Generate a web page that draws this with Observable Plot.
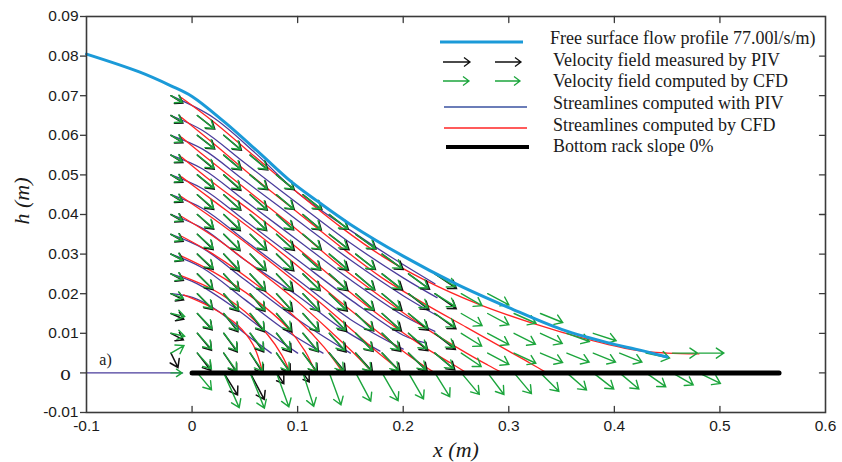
<!DOCTYPE html>
<html><head><meta charset="utf-8">
<script src="https://cdn.jsdelivr.net/npm/d3@7"></script>
<script src="https://cdn.jsdelivr.net/npm/@observablehq/plot@0.6"></script>
<style>
body{margin:0;background:#fff;}
#wrap{position:relative;width:842px;height:462px;overflow:hidden;}
#wrap svg{display:block;}
#overlay{position:absolute;left:0;top:0;pointer-events:none;}
</style></head><body><div id="wrap"></div>
<script>
// ---------- data ----------
const xTicks = [-0.1, 0, 0.1, 0.2, 0.3, 0.4, 0.5, 0.6];
const yTicks = [-0.01, 0, 0.01, 0.02, 0.03, 0.04, 0.05, 0.06, 0.07, 0.08, 0.09];
const xTickLabels = ["-0.1", "0", "0.1", "0.2", "0.3", "0.4", "0.5", "0.6"];
const yTickLabels = ["-0.01", "", "0.01", "0.02", "0.03", "0.04", "0.05", "0.06", "0.07", "0.08", "0.09"];

// free surface profile
const surfaceX = [-0.1, -0.05, -0.02, 0, 0.03, 0.064, 0.093, 0.118, 0.15, 0.2, 0.25, 0.3, 0.35, 0.4, 0.42, 0.45];
const surfaceH = [0.0805, 0.076, 0.0725, 0.0698, 0.0635, 0.0555, 0.0485, 0.0435, 0.0375, 0.0295, 0.0225, 0.0165, 0.011, 0.0072, 0.006, 0.004];

// bottom rack and inlet bed
const rackX = [0, 0.556];
const rackH = [0, 0];
const inletX = [-0.1, -0.009];
const inletH = [0, 0];

// quiver grid
const gridX = [-0.02, 0.005, 0.03, 0.055, 0.08, 0.105, 0.13, 0.155, 0.18, 0.205, 0.23, 0.255, 0.28, 0.305, 0.33, 0.355, 0.38, 0.405, 0.43, 0.455, 0.48];
const gridH = [0.07, 0.065, 0.06, 0.055, 0.05, 0.045, 0.04, 0.035, 0.03, 0.025, 0.02, 0.015, 0.01, 0.005, 0];

// PIV arrows: direction (deg below horizontal) and length (px) per row / column
const pivAngle = [
  [32],
  [32, 38],
  [32, 38, 40],
  [32, 40, 40, 40],
  [32, 40, 42, 40, 40],
  [32, 42, 42, 42, 40, 38],
  [30, 42, 44, 44, 42, 40, 38],
  [30, 44, 45, 44, 42, 40, 38, 36],
  [28, 44, 47, 46, 44, 42, 40, 38, 36],
  [28, 45, 48, 48, 46, 44, 42, 40, 38, 36, 34],
  [26, 46, 50, 50, 48, 46, 44, 42, 40, 38, 35],
  [24, 48, 52, 52, 50, 48, 46, 44, 42, 40, 36],
  [28, 50, 54, 54, 52, 50, 48, 46, 44, 42, 38],
  [64, 52, 56, 57, 55, 53, 50, 48, 46, 44, 40],
  [null, null, 58, 62, 56, 55]
];
const pivLength = [
  [14],
  [14, 22],
  [14, 22, 23],
  [14, 22, 23, 23],
  [14, 22, 23, 23, 23],
  [14, 22, 23, 23, 23, 24],
  [14, 22, 23, 23, 23, 24, 24],
  [14, 22, 23, 23, 24, 24, 25, 25],
  [14, 22, 23, 23, 24, 24, 25, 25, 26],
  [14, 22, 23, 23, 24, 24, 25, 25, 26, 26, 26],
  [14, 22, 23, 23, 24, 24, 25, 25, 26, 26, 26],
  [14, 22, 23, 23, 24, 24, 25, 25, 26, 26, 26],
  [14, 22, 23, 23, 24, 24, 25, 25, 26, 26, 26],
  [16, 22, 23, 24, 24, 24, 25, 25, 26, 26, 26],
  [null, null, 26, 30, 13, 11]
];

// CFD arrows
const cfdAngle = [
  [30],
  [30, 38],
  [30, 38, 40],
  [30, 38, 40, 40],
  [30, 38, 40, 40, 40],
  [30, 40, 42, 42, 40, 38],
  [28, 40, 42, 44, 42, 40, 38],
  [28, 42, 44, 44, 42, 40, 38, 36],
  [28, 42, 45, 45, 44, 42, 40, 38, 36],
  [25, 44, 47, 47, 46, 44, 42, 40, 38, 36, 32],
  [20, 45, 48, 48, 47, 46, 44, 42, 40, 36, 32, 30, 28],
  [12, 46, 50, 50, 49, 48, 46, 44, 42, 38, 34, 30, 28, 24, 22],
  [12, 48, 52, 52, 51, 50, 48, 46, 44, 40, 36, 32, 28, 27, 25, 20, 18],
  [-30, 48, 54, 55, 55, 54, 52, 50, 47, 44, 40, 34, 28, 25, 23, 22, 22, 22, 12, 0, 0],
  [0, 50, 66, 68, 70, 72, 70, 62, 60, 60, 58, 50, 53, 50, 45, 41, 38, 40, 35, 30, 26]
];
const cfdLength = [
  [13],
  [13, 21],
  [13, 21, 22],
  [13, 21, 22, 22],
  [13, 21, 22, 22, 22],
  [13, 21, 22, 22, 22, 23],
  [13, 21, 22, 22, 22, 23, 23],
  [13, 21, 22, 22, 22, 23, 23, 24],
  [13, 21, 22, 22, 22, 23, 23, 24, 24],
  [13, 21, 22, 22, 22, 23, 23, 24, 24, 24, 24],
  [13, 21, 22, 22, 22, 23, 23, 24, 24, 24, 24, 24, 24],
  [14, 21, 22, 22, 22, 23, 23, 24, 24, 24, 24, 24, 24, 24, 24],
  [14, 21, 22, 22, 22, 23, 23, 24, 24, 24, 24, 24, 24, 24, 24, 24, 24],
  [15, 21, 22, 22, 22, 23, 23, 24, 24, 24, 24, 24, 24, 24, 24, 24, 24, 24, 24, 25, 25],
  [11, 22, 38, 38, 36, 35, 34, 32, 32, 30, 28, 28, 27, 27, 26, 26, 26, 25, 24, 24, 24]
];

// streamlines computed with PIV: [x, h] points
const pivStreams = [
  [[-0.02, 0.07], [0.02, 0.0645], [0.06, 0.0555], [0.1, 0.0455], [0.15, 0.036], [0.19, 0.029], [0.23, 0.0225]],
  [[-0.02, 0.065], [0.01, 0.0612], [0.05, 0.053], [0.1, 0.0428], [0.15, 0.0328], [0.2, 0.024], [0.232, 0.019]],
  [[-0.02, 0.06], [0.01, 0.0565], [0.05, 0.0485], [0.1, 0.0385], [0.15, 0.0285], [0.2, 0.0195], [0.232, 0.0145]],
  [[-0.02, 0.055], [0.01, 0.0515], [0.05, 0.0435], [0.1, 0.0335], [0.15, 0.0235], [0.2, 0.0145], [0.23, 0.0105]],
  [[-0.02, 0.05], [0.01, 0.0465], [0.05, 0.0385], [0.1, 0.0285], [0.15, 0.0185], [0.2, 0.0095], [0.222, 0.0075]],
  [[-0.02, 0.045], [0.01, 0.0415], [0.05, 0.0335], [0.1, 0.0235], [0.15, 0.0135], [0.2, 0.006]],
  [[-0.02, 0.04], [0.01, 0.0365], [0.05, 0.0285], [0.1, 0.0195], [0.14, 0.0115], [0.178, 0.0055]],
  [[-0.02, 0.035], [0.01, 0.0315], [0.05, 0.0235], [0.1, 0.0135], [0.15, 0.005]],
  [[-0.02, 0.03], [0.01, 0.0265], [0.05, 0.0185], [0.09, 0.0105], [0.124, 0.005]],
  [[-0.02, 0.025], [0.005, 0.0225], [0.04, 0.0165], [0.07, 0.0105], [0.1, 0.005]],
  [[-0.02, 0.02], [0.001, 0.019], [0.027, 0.0152], [0.048, 0.0104], [0.075, 0.005]]
];

// streamlines computed by CFD
const cfdStreams = [
  [[-0.01, 0.0695], [0.02, 0.0635], [0.06, 0.0545], [0.1, 0.0455], [0.14, 0.037], [0.18, 0.0295], [0.22, 0.0235], [0.27, 0.0175], [0.323, 0.0125], [0.374, 0.0085], [0.418, 0.0058], [0.45, 0.005], [0.48, 0.0048]],
  [[-0.01, 0.0645], [0.02, 0.058], [0.06, 0.049], [0.1, 0.0405], [0.14, 0.032], [0.18, 0.024], [0.22, 0.0175], [0.26, 0.0115], [0.3, 0.0055], [0.32, 0.0025], [0.336, 0]],
  [[-0.01, 0.0595], [0.02, 0.053], [0.06, 0.0445], [0.1, 0.036], [0.14, 0.027], [0.18, 0.019], [0.22, 0.0115], [0.26, 0.005], [0.28, 0.002], [0.294, 0]],
  [[-0.01, 0.0545], [0.02, 0.048], [0.06, 0.04], [0.1, 0.0315], [0.14, 0.0225], [0.18, 0.014], [0.22, 0.0065], [0.245, 0.0025], [0.26, 0]],
  [[-0.01, 0.0495], [0.02, 0.0435], [0.06, 0.0355], [0.1, 0.027], [0.14, 0.018], [0.18, 0.0095], [0.21, 0.0035], [0.23, 0]],
  [[-0.01, 0.0445], [0.02, 0.039], [0.06, 0.031], [0.1, 0.0225], [0.14, 0.0135], [0.17, 0.0065], [0.2, 0]],
  [[-0.01, 0.0395], [0.02, 0.0345], [0.06, 0.0265], [0.1, 0.018], [0.135, 0.0095], [0.155, 0.0045], [0.171, 0]],
  [[-0.01, 0.0345], [0.02, 0.03], [0.06, 0.0225], [0.1, 0.0135], [0.125, 0.0065], [0.143, 0]],
  [[-0.01, 0.0295], [0.02, 0.0255], [0.06, 0.0185], [0.09, 0.0115], [0.107, 0.0055], [0.117, 0]],
  [[-0.01, 0.0245], [0.02, 0.021], [0.05, 0.0155], [0.072, 0.0095], [0.085, 0.0045], [0.093, 0]],
  [[-0.008, 0.0197], [0.017, 0.0167], [0.043, 0.0121], [0.058, 0.007], [0.067, 0]]
];

const legendLabels = [
  "Free surface flow profile 77.00l/s/m)",
  "Velocity field measured by PIV",
  "Velocity field computed by CFD",
  "Streamlines computed with PIV",
  "Streamlines computed by CFD",
  "Bottom rack slope 0%"
];

// ---------- styles ----------
const C = {surface: "#1b9ad8", piv: "#111111", cfd: "#1ca53c", pivLine: "#4a3c9c", cfdLine: "#ff2424", rack: "#000000", frame: "#3a3a3a"};
const serif = "'Liberation Serif','Times New Roman',serif";
const sans = "'Liberation Sans',Arial,sans-serif";

// ---------- build tables ----------
function field(angles, lengths) {
  const out = [];
  angles.forEach((row, r) => row.forEach((a, c) => {
    if (a == null) return;
    out.push({x: gridX[c], h: gridH[r], a, l: lengths[r][c]});
  }));
  return out;
}
const pivField = field(pivAngle, pivLength);
const cfdField = field(cfdAngle, cfdLength);
const streamTable = (lines) => lines.flatMap((pts, id) => pts.map(([x, h]) => ({id, x, h})));
const pivStreamData = streamTable(pivStreams);
const cfdStreamData = streamTable(cfdStreams);
const surface = surfaceX.map((x, i) => ({x, h: surfaceH[i]}));
const rack = rackX.map((x, i) => ({x, h: rackH[i]}));
const inlet = inletX.map((x, i) => ({x, h: inletH[i]}));

// arrow with fixed-size open head
const arrowShape = {
  draw(ctx, l) {
    const hl = Math.min(9, l * 0.6), s = 0.56, c = 0.83;
    ctx.moveTo(0, 0); ctx.lineTo(0, -l);
    ctx.moveTo(-hl * s, -l + hl * c); ctx.lineTo(0, -l); ctx.lineTo(hl * s, -l + hl * c);
  }
};
const tickShape = {draw(ctx, l) { ctx.moveTo(0, 0); ctx.lineTo(0, -l); }};

const W = 842, H = 462;
const mL = 86, mR = 17, mT = 16, mB = 50;

const chart = Plot.plot({
  width: W, height: H,
  marginLeft: mL, marginRight: mR, marginTop: mT, marginBottom: mB,
  x: {domain: [-0.1, 0.6]},
  y: {domain: [-0.01, 0.09]},
  length: {type: "linear", domain: [0, 100], range: [0, 100]},
  style: {fontFamily: sans, fontSize: "15px", color: "#1a1a1a", background: "#fff", overflow: "visible"},
  marks: [
    Plot.line(pivStreamData, {x: "x", y: "h", z: "id", stroke: C.pivLine, strokeWidth: 1.3, curve: "catmull-rom"}),
    Plot.line(cfdStreamData, {x: "x", y: "h", z: "id", stroke: C.cfdLine, strokeWidth: 1.3, curve: "catmull-rom"}),
    Plot.line(inlet, {x: "x", y: "h", stroke: C.pivLine, strokeWidth: 1.3}),
    Plot.vector(pivField, {x: "x", y: "h", rotate: d => 90 + d.a, length: "l", anchor: "start", stroke: C.piv, strokeWidth: 1.5, strokeLinejoin: "miter", shape: arrowShape}),
    Plot.vector(cfdField, {x: "x", y: "h", rotate: d => 90 + d.a, length: "l", anchor: "start", stroke: C.cfd, strokeWidth: 1.4, strokeLinejoin: "miter", shape: arrowShape}),
    Plot.line(surface, {x: "x", y: "h", stroke: C.surface, strokeWidth: 3, curve: "catmull-rom"}),
    Plot.line(rack, {x: "x", y: "h", stroke: C.rack, strokeWidth: 5}),
    Plot.frame({stroke: C.frame, strokeWidth: 1.6}),
    // axes
    Plot.axisX(xTicks, {anchor: "bottom", tickSize: 0, tickPadding: 7, label: null, fontSize: 15.5, tickFormat: (d, i) => xTickLabels[i]}),
    Plot.axisY(yTicks, {anchor: "left", tickSize: 6, tickPadding: 2, label: null, fontSize: 15.5, stroke: C.frame, strokeWidth: 1.3, tickFormat: (d, i) => yTickLabels[i]}),
    Plot.text([0], {y: d => d, frameAnchor: "left", dx: -21, text: () => "o", fontFamily: serif, fontSize: 21, textAnchor: "middle", fill: "#1a1a1a"}),
    // inward ticks
    Plot.vector(xTicks.slice(1, -1), {x: d => d, frameAnchor: "bottom", rotate: 0, length: 6, anchor: "start", shape: tickShape, stroke: C.frame, strokeWidth: 1.3}),
    Plot.vector(xTicks.slice(1, -1), {x: d => d, frameAnchor: "top", rotate: 180, length: 6, anchor: "start", shape: tickShape, stroke: C.frame, strokeWidth: 1.3}),
    Plot.vector(yTicks.slice(1, -1), {y: d => d, frameAnchor: "right", rotate: 270, length: 6, anchor: "start", shape: tickShape, stroke: C.frame, strokeWidth: 1.3}),
    // panel tag
    Plot.text(["a)"], {x: -0.082, y: 0.0033, text: d => d, fontFamily: serif, fontSize: 16, fill: "#1a1a1a"})
  ]
});

const wrap = document.getElementById("wrap");
wrap.appendChild(chart);

// ---------- overlay: axis titles + legend ----------
const ov = d3.select(wrap).append("svg").attr("id", "overlay").attr("width", W).attr("height", H);
ov.append("text").attr("transform", "translate(29,201) rotate(-90)").attr("text-anchor", "middle")
  .attr("font-family", serif).attr("font-style", "italic").attr("font-size", 22).attr("fill", "#1a1a1a").text("h (m)");
ov.append("text").attr("x", 456).attr("y", 457).attr("text-anchor", "middle")
  .attr("font-family", serif).attr("font-style", "italic").attr("font-size", 22).attr("fill", "#1a1a1a").text("x (m)");

const lg = ov.append("g");
const rowY = [38, 60, 81, 103, 125, 146];
const sampleY = [42, 62, 81, 107, 128, 147];
const textX = [550, 553, 553, 553, 553, 553];
legendLabels.forEach((t, i) => {
  lg.append("text").attr("x", textX[i]).attr("y", rowY[i]).attr("dy", "0.35em")
    .attr("font-family", serif).attr("font-size", 18).attr("fill", "#1a1a1a").text(t);
});
function legArrow(x1, x2, y, col) {
  lg.append("path").attr("d", `M${x1},${y}H${x2}M${x2 - 6},${y - 4.5}L${x2},${y}L${x2 - 6},${y + 4.5}`)
    .attr("fill", "none").attr("stroke", col).attr("stroke-width", 1.3);
}
lg.append("line").attr("x1", 440).attr("x2", 523).attr("y1", sampleY[0]).attr("y2", sampleY[0]).attr("stroke", C.surface).attr("stroke-width", 3);
legArrow(443, 470, sampleY[1], C.piv); legArrow(495, 521, sampleY[1], C.piv);
legArrow(443, 469, sampleY[2], C.cfd); legArrow(495, 520, sampleY[2], C.cfd);
lg.append("line").attr("x1", 444).attr("x2", 527).attr("y1", sampleY[3]).attr("y2", sampleY[3]).attr("stroke", "#3a52a0").attr("stroke-width", 1.5);
lg.append("line").attr("x1", 444).attr("x2", 527).attr("y1", sampleY[4]).attr("y2", sampleY[4]).attr("stroke", C.cfdLine).attr("stroke-width", 1.5);
lg.append("line").attr("x1", 446).attr("x2", 529).attr("y1", sampleY[5]).attr("y2", sampleY[5]).attr("stroke", C.rack).attr("stroke-width", 4);
</script></body></html>
